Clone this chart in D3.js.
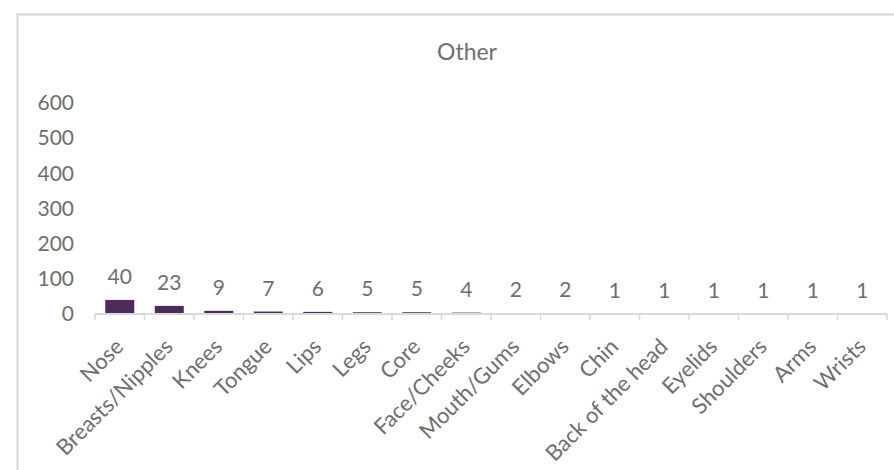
<!DOCTYPE html>
<html><head><meta charset="utf-8">
<script src="https://cdn.jsdelivr.net/npm/d3@7"></script>
<style>
html,body{margin:0;padding:0;background:#fff;}
svg{display:block;}
</style></head>
<body>
<svg id="chart" width="894" height="470"></svg>
<script>
const chartTitle = "Other";
const categories = ["Nose","Breasts/Nipples","Knees","Tongue","Lips","Legs","Core","Face/Cheeks","Mouth/Gums","Elbows","Chin","Back of the head","Eyelids","Shoulders","Arms","Wrists"];
const values = [40,23,9,7,6,5,5,4,2,2,1,1,1,1,1,1];
const yTicks = [0,100,200,300,400,500,600];

const svg = d3.select("#chart");
const textColor = "#6e6e6e";
const font = "Lato, 'Open Sans', sans-serif";

// chart border (left and top visible)
svg.append("path")
  .attr("d","M17.5,470 L17.5,14.5 L894,14.5")
  .attr("fill","none").attr("stroke","#d6d6d6").attr("stroke-width",2);

const x = d3.scaleBand().domain(categories).range([95, 887]).paddingInner(0.414).paddingOuter(0.207);
const y = d3.scaleLinear().domain([0, 600]).range([314, 103]);

// title
svg.append("text").attr("x",467).attr("y",60).attr("text-anchor","middle")
  .attr("font-family",font).attr("font-size",23).attr("fill",textColor).text(chartTitle);

// y axis labels
const yAxis = d3.axisLeft(y).tickValues(yTicks).tickSize(0).tickPadding(0);
const gy = svg.append("g").attr("transform","translate(74,0)").call(yAxis);
gy.select(".domain").remove();
gy.selectAll("text").attr("font-family",font).attr("font-size",21).attr("fill",textColor);

// bars
svg.append("g").selectAll("rect").data(values).join("rect")
  .attr("x",(d,i)=>x(categories[i]))
  .attr("y",d=>y(d))
  .attr("width",x.bandwidth())
  .attr("height",d=>y(0)-y(d))
  .attr("fill","#4b2c5a");

// x axis line and ticks (drawn over bars)
const step = x.step();
const edges = categories.map(c => x(c) - x.paddingOuter()*step).concat([887]);
svg.append("line").attr("x1",95).attr("x2",887).attr("y1",y(0)).attr("y2",y(0))
  .attr("stroke","#d9d9d9").attr("stroke-width",2);
svg.append("g").selectAll("line").data(edges).join("line")
  .attr("x1",d=>d).attr("x2",d=>d).attr("y1",y(0)).attr("y2",y(0)+6)
  .attr("stroke","#d9d9d9").attr("stroke-width",1.5);

// value labels
svg.append("g").selectAll("text").data(values).join("text")
  .attr("x",(d,i)=>x(categories[i])+x.bandwidth()/2)
  .attr("y",d=>y(d)-16)
  .attr("text-anchor","middle")
  .attr("font-family",font).attr("font-size",21).attr("fill",textColor)
  .text(d=>d);

// category labels rotated
svg.append("g").selectAll("text").data(categories).join("text")
  .attr("text-anchor","end")
  .attr("transform",d=>`translate(${x(d)+x.bandwidth()/2+5},348) rotate(-45)`)
  .attr("font-family",font).attr("font-size",22).attr("fill",textColor)
  .text(d=>d);
</script>
</body></html>
